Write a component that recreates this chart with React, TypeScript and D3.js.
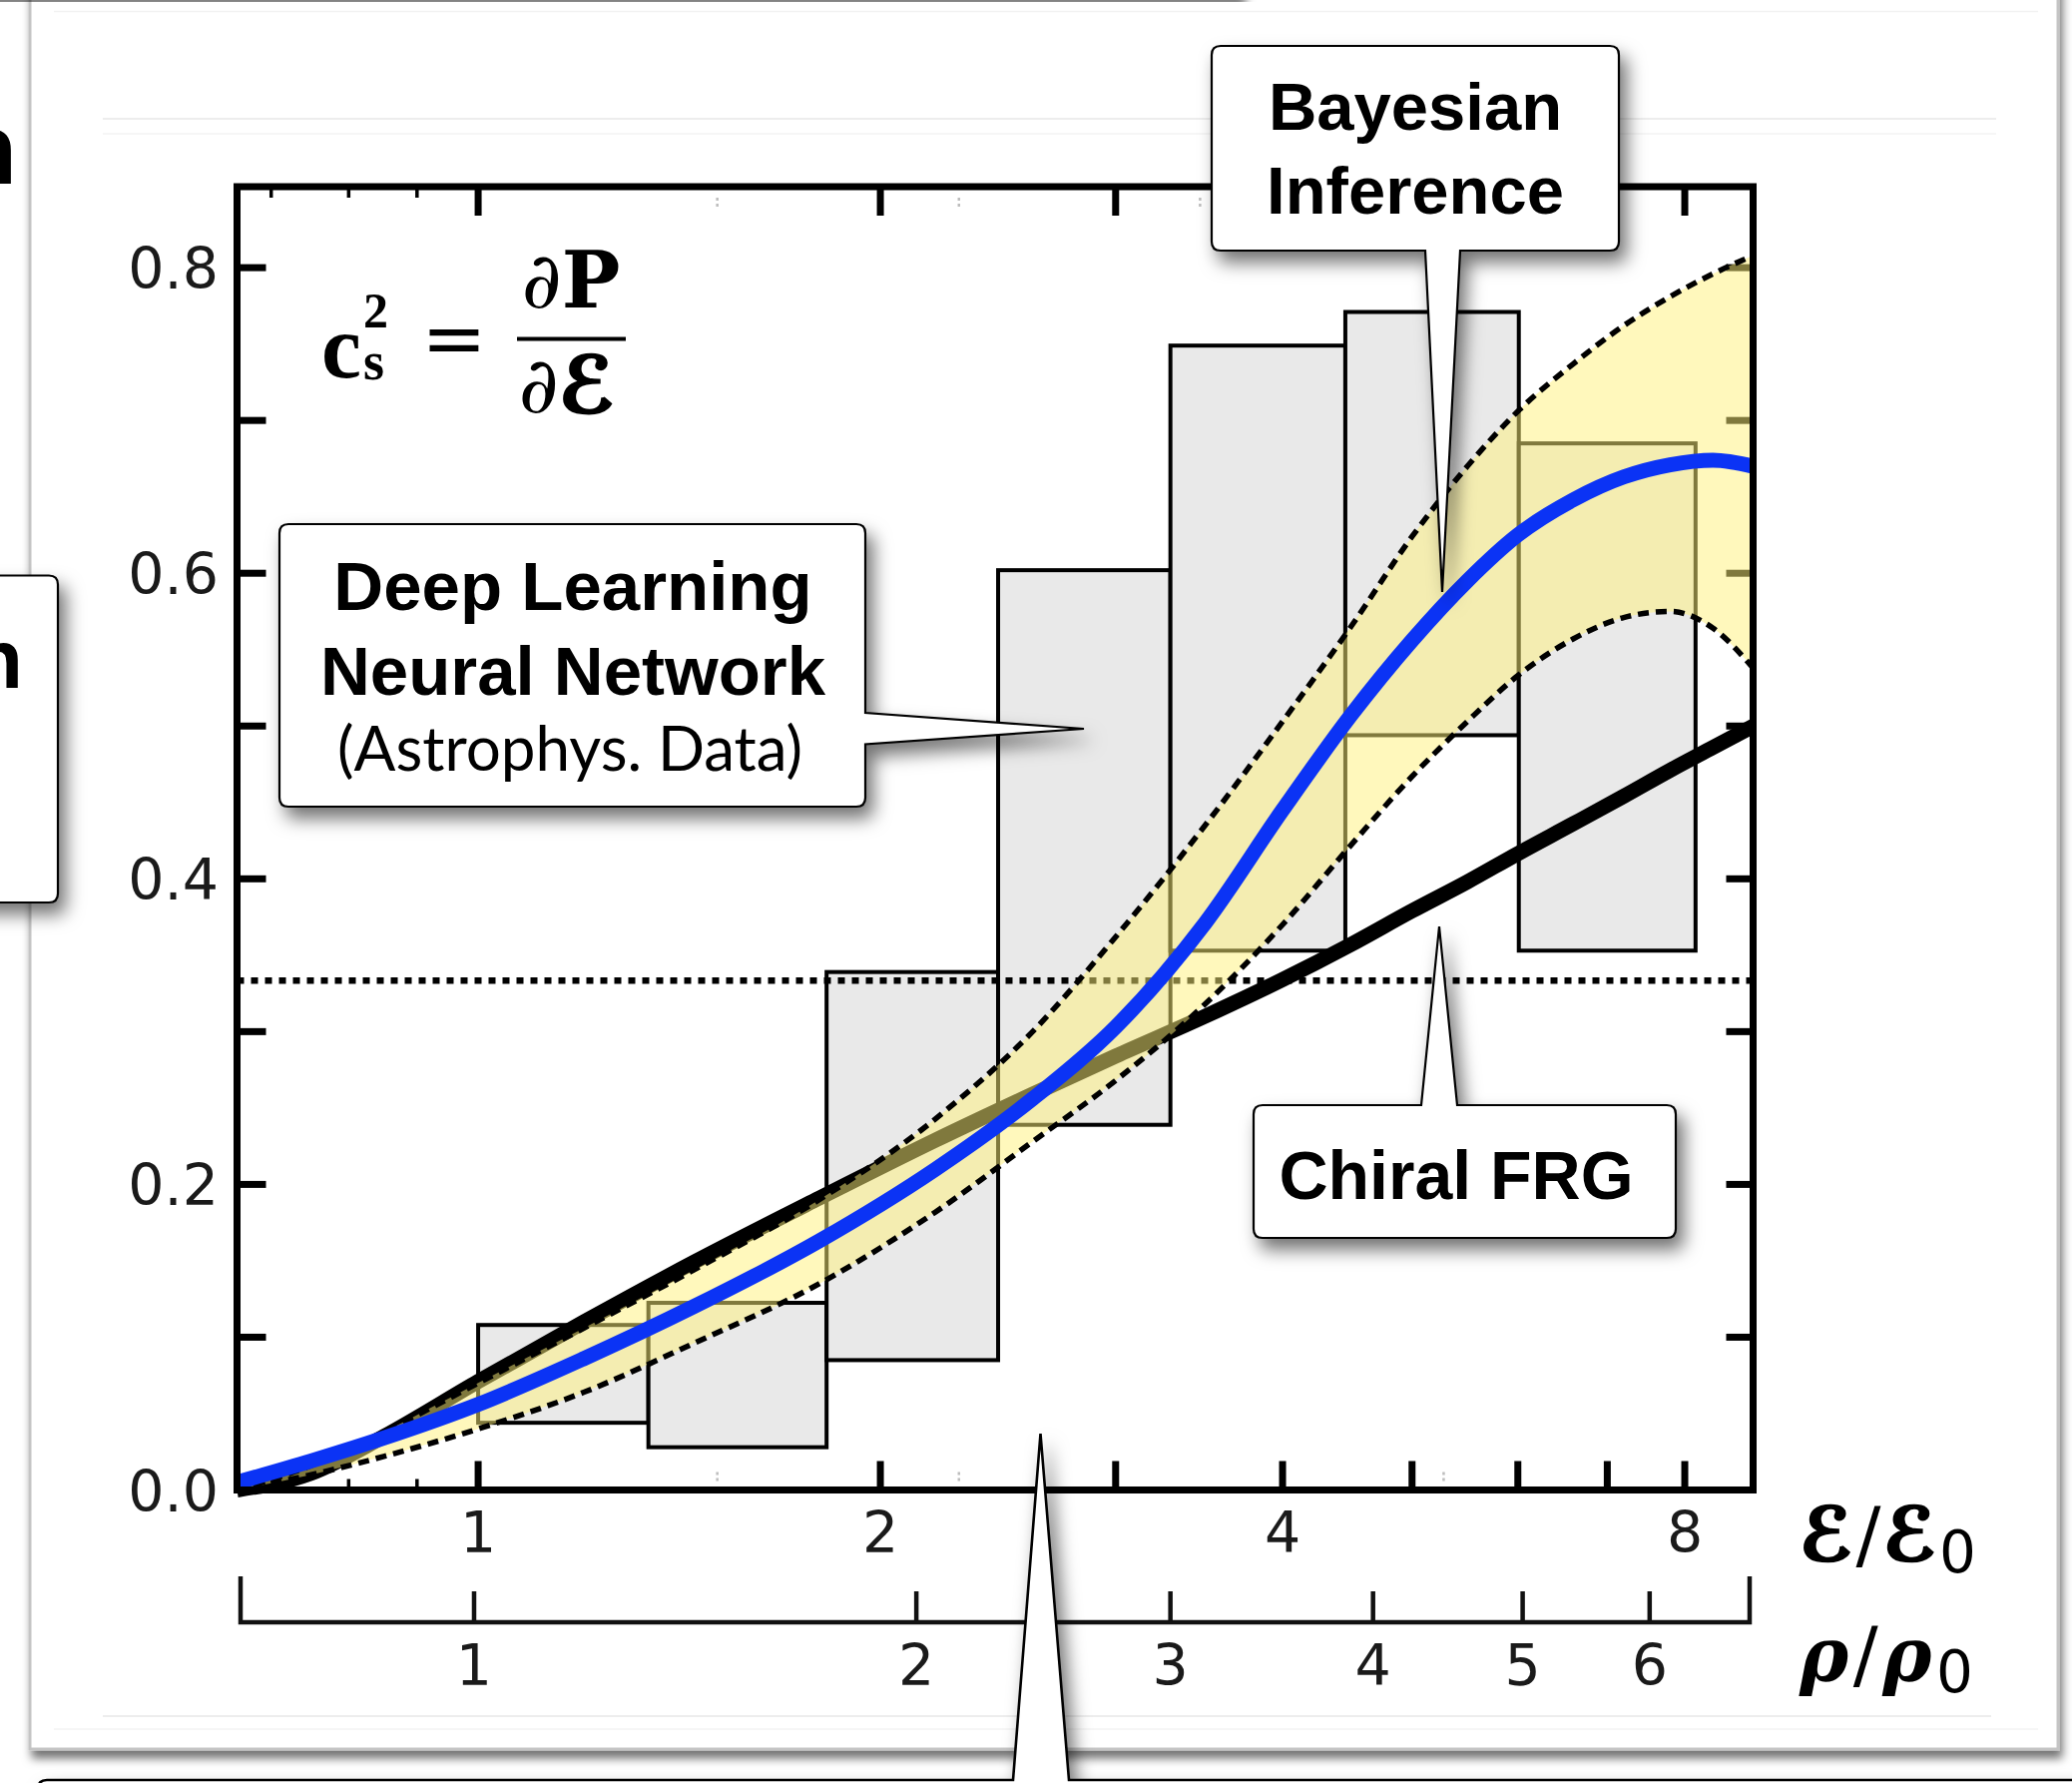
import React from 'react';
import * as d3 from 'd3';

const W = 2076;
const H = 1786;

// ε/ε0 grid on which the curves are tabulated
const epsGrid = [0.66, 0.75, 0.85, 1.0, 1.2, 1.45, 1.8, 2.2, 2.6, 3.0, 3.5, 4.0, 4.5, 5.0, 5.5, 6.0, 6.6, 7.2, 7.8, 8.4, 9.0];
// Chiral FRG speed of sound squared
const frgCs2 = [0, 0.011, 0.035, 0.071, 0.11, 0.149, 0.191, 0.229, 0.259, 0.284, 0.31, 0.334, 0.357, 0.379, 0.398, 0.4165, 0.436, 0.454, 0.471, 0.486, 0.5];
// Bayesian inference: mean and credible band
const bayesMean = [0.005, 0.019, 0.034, 0.056, 0.086, 0.12, 0.163, 0.21, 0.256, 0.303, 0.371, 0.445, 0.507, 0.556, 0.595, 0.625, 0.648, 0.663, 0.671, 0.674, 0.67];
const bayesUpper = [0, 0.016, 0.038, 0.07, 0.106, 0.144, 0.19, 0.243, 0.3, 0.362, 0.435, 0.503, 0.565, 0.624, 0.67, 0.706, 0.737, 0.762, 0.781, 0.796, 0.808];
const bayesLower = [0, 0.01, 0.022, 0.04, 0.064, 0.096, 0.135, 0.182, 0.228, 0.268, 0.318, 0.37, 0.422, 0.467, 0.503, 0.533, 0.557, 0.571, 0.575, 0.564, 0.538];

// Deep learning neural network ranges per ε/ε0 bin
const binEdges = [1.0, 1.341, 1.823, 2.45, 3.297, 4.457, 6.01, 8.15];
const dnnLow = [0.044, 0.028, 0.085, 0.239, 0.353, 0.494, 0.353];
const dnnHigh = [0.108, 0.1225, 0.339, 0.602, 0.749, 0.771, 0.685];

// axes
const yTicks = [0, 0.1, 0.2, 0.3, 0.4, 0.5, 0.6, 0.7, 0.8];
const yLabels = [0, 0.2, 0.4, 0.6, 0.8];
const epsMajor = [1, 2, 3, 4, 5, 6, 7, 8];
const epsMinor = [0.7, 0.8, 0.9];
const epsLabels = [1, 2, 4, 8];
const rhoLabels = [1, 2, 3, 4, 5, 6];
const rhoTickEps = [0.993, 2.128, 3.297, 4.675, 6.05, 7.53];
const faintTopEps = [1.51, 2.29, 3.47];
const faintBottomEps = [1.51, 2.29, 5.28];
const conformalLimit = 1 / 3;

const x = d3.scaleLog().domain([0.66, 9.0]).range([237.5, 1756.5]);
const y = d3.scaleLinear().domain([0, 0.853]).range([1492.5, 187]);

const idx = d3.range(epsGrid.length);
const line = d3
  .line<number>()
  .x((i) => x(epsGrid[i]))
  .curve(d3.curveMonotoneX);
const frgPath = line.y((i) => y(frgCs2[i]))(idx) as string;
const meanPath = line.y((i) => y(bayesMean[i]))(idx) as string;
const bandPath = d3
  .area<number>()
  .x((i) => x(epsGrid[i]))
  .y0((i) => y(bayesLower[i]))
  .y1((i) => y(bayesUpper[i]))
  .curve(d3.curveMonotoneX)(idx) as string;

type Side = 'top' | 'right' | 'bottom';
// rounded box with a wedge-shaped pointer on one side
function callout(x0: number, y0: number, x1: number, y1: number, r: number, side: Side, a: number, b: number, tx: number, ty: number) {
  let p = `M${x0 + r},${y0}`;
  if (side === 'top') p += `H${a}L${tx},${ty}L${b},${y0}`;
  p += `H${x1 - r}Q${x1},${y0} ${x1},${y0 + r}`;
  if (side === 'right') p += `V${a}L${tx},${ty}L${x1},${b}`;
  p += `V${y1 - r}Q${x1},${y1} ${x1 - r},${y1}`;
  if (side === 'bottom') p += `H${b}L${tx},${ty}L${a},${y1}`;
  p += `H${x0 + r}Q${x0},${y1} ${x0},${y1 - r}V${y0 + r}Q${x0},${y0} ${x0 + r},${y0}Z`;
  return p;
}

const SANS = "'Liberation Sans', Arial, Helvetica, sans-serif";
const TICKFONT = "'DejaVu Sans', sans-serif";
const MATH = "'DejaVu Serif', 'DejaVu Sans', serif";
const TIMES = "'Liberation Serif', 'DejaVu Serif', serif";
const SCRIPT = "'DejaVu Sans', 'DejaVu Serif', sans-serif";

export default function App() {
  const xl = x.range()[0];
  const xr = x.range()[1];
  const yb = y.range()[0];
  const yt = y.range()[1];
  return (
    <svg width={W} height={H} viewBox={`0 0 ${W} ${H}`} style={{ position: 'absolute', left: 0, top: 0, display: 'block' }}>
      <defs>
        <filter id="callShadow" x="-30%" y="-30%" width="160%" height="160%">
          <feDropShadow dx={7} dy={11} stdDeviation={9} floodColor="#000" floodOpacity={0.55} />
        </filter>
        <filter id="cardShadow" x="-5%" y="-5%" width="110%" height="110%">
          <feDropShadow dx={3} dy={8} stdDeviation={5} floodColor="#000" floodOpacity={0.55} />
        </filter>
      </defs>
      <rect x={0} y={0} width={W} height={H} fill="#fff" />

      {/* card */}
      <rect x={30} y={-60} width={2032} height={1812} fill="#fff" stroke="#c4c4c4" strokeWidth={3} filter="url(#cardShadow)" />
      {/* element above, casting its shadow */}
      <rect x={-40} y={-80} width={1285} height={78} fill="#fff" filter="url(#cardShadow)" />
      <line x1={54} x2={2042} y1={11.5} y2={11.5} stroke="#f2f2f2" strokeWidth={1.5} />
      <line x1={103} x2={2000} y1={119} y2={119} stroke="#ededed" strokeWidth={2} />
      <line x1={103} x2={2000} y1={134} y2={134} stroke="#f3f3f3" strokeWidth={1.5} />
      <line x1={103} x2={1995} y1={1719} y2={1719} stroke="#ededed" strokeWidth={2} />
      <line x1={54} x2={2042} y1={1732} y2={1732} stroke="#f3f3f3" strokeWidth={1.5} />

      {/* neighbouring callouts, partly visible */}
      <text x={17} y={184} fontFamily={SANS} fontWeight="bold" fontSize={100} textAnchor="end" fill="#000">n</text>
      <path d={callout(-40, 576.5, 58, 904, 9, 'top', 0, 0, 0, 576.5)} fill="#fff" stroke="#000" strokeWidth={2.2} filter="url(#callShadow)" />
      <text x={23} y={689} fontFamily={SANS} fontWeight="bold" fontSize={83} textAnchor="end" fill="#000">n</text>

      {/* DNN boxes */}
      <g>
        {dnnLow.map((lo, i) => (
          <rect
            key={i}
            x={x(binEdges[i])}
            y={y(dnnHigh[i])}
            width={x(binEdges[i + 1]) - x(binEdges[i])}
            height={y(lo) - y(dnnHigh[i])}
            fill="#e9e9e9"
            stroke="#000"
            strokeWidth={4}
          />
        ))}
      </g>

      {/* chiral FRG */}
      <path d={frgPath} fill="none" stroke="#000" strokeWidth={15} strokeLinecap="butt" />

      {/* conformal limit */}
      <line x1={xl} x2={xr + 6} y1={y(conformalLimit)} y2={y(conformalLimit)} stroke="#000" strokeWidth={6.5} strokeDasharray="7 7" />

      {/* ticks */}
      <g stroke="#000">
        {yTicks.map((t) => (
          <g key={`yt${t}`} strokeWidth={7}>
            <line x1={xl} x2={xl + 29} y1={y(t)} y2={y(t)} />
            <line x1={xr} x2={xr - 27} y1={y(t)} y2={y(t)} />
          </g>
        ))}
        {epsMajor.map((t) => (
          <g key={`xt${t}`} strokeWidth={7}>
            <line x1={x(t)} x2={x(t)} y1={yb} y2={yb - 29} />
            <line x1={x(t)} x2={x(t)} y1={yt} y2={yt + 29} />
          </g>
        ))}
        {epsMinor.map((t) => (
          <g key={`xm${t}`} strokeWidth={3.5}>
            <line x1={x(t)} x2={x(t)} y1={yb} y2={yb - 11} />
            <line x1={x(t)} x2={x(t)} y1={yt} y2={yt + 11} />
          </g>
        ))}
      </g>
      <g stroke="#bdbdbd" strokeWidth={2.5} strokeDasharray="3 3">
        {faintTopEps.map((t) => (
          <line key={`ft${t}`} x1={x(t)} x2={x(t)} y1={yt + 11} y2={yt + 23} />
        ))}
        {faintBottomEps.map((t) => (
          <line key={`fb${t}`} x1={x(t)} x2={x(t)} y1={yb - 18} y2={yb - 6} />
        ))}
      </g>

      {/* Bayesian band */}
      <path d={bandPath} fill="#fff27a" fillOpacity={0.5} stroke="none" />
      <path d={bandPath} fill="none" stroke="#000" strokeWidth={5.5} strokeDasharray="11 7" />
      <path d={meanPath} fill="none" stroke="#0b33f5" strokeWidth={15} />

      {/* frame */}
      <rect x={xl} y={yt} width={xr - xl} height={yb - yt} fill="none" stroke="#000" strokeWidth={7} />

      {/* tick labels */}
      <g fontFamily={TICKFONT} fontSize={57} fill="#1a1a1a">
        {yLabels.map((t) => (
          <text key={`yl${t}`} x={219} y={y(t) + 21} textAnchor="end">{t.toFixed(1)}</text>
        ))}
        {epsLabels.map((t) => (
          <text key={`xl${t}`} x={x(t)} y={1555} textAnchor="middle">{t}</text>
        ))}
        {rhoLabels.map((t, i) => (
          <text key={`rl${t}`} x={x(rhoTickEps[i])} y={1688} textAnchor="middle">{t}</text>
        ))}
      </g>

      {/* ρ/ρ0 axis */}
      <g stroke="#111" strokeWidth={4.5} fill="none">
        <path d={`M${xl + 3.5},1579V1625H${xr - 3.5}V1579`} />
        {rhoTickEps.map((e, i) => (
          <line key={`rt${i}`} x1={x(e)} x2={x(e)} y1={1625} y2={1594} />
        ))}
      </g>

      {/* axis titles */}
      <text x={1803} y={1563} fontFamily={SCRIPT} fontSize={74} fill="#000" textLength={177} lengthAdjust="spacing">
        <tspan fontWeight="bold" fontStyle="italic" stroke="#000" strokeWidth={2.6}>ℰ</tspan>
        <tspan fontFamily={TICKFONT} fontWeight="normal">/</tspan>
        <tspan fontWeight="bold" fontStyle="italic" stroke="#000" strokeWidth={2.6}>ℰ</tspan>
        <tspan fontFamily={TICKFONT} fontSize={58} dy={12}>0</tspan>
      </text>
      <text x={1803} y={1683} fontFamily={MATH} fontSize={74} fill="#000" textLength={174} lengthAdjust="spacing">
        <tspan fontWeight="bold" fontStyle="italic">ρ</tspan>
        <tspan fontFamily={TICKFONT} fontWeight="normal">/</tspan>
        <tspan fontWeight="bold" fontStyle="italic">ρ</tspan>
        <tspan fontFamily={TICKFONT} fontSize={58} dy={12}>0</tspan>
      </text>

      {/* c_s^2 = ∂P/∂ℰ */}
      <g fill="#000">
        <text x={322} y={378} fontFamily={TIMES} fontSize={90} fontWeight="bold">
          c
          <tspan x={364} y={328} fontSize={50}>2</tspan>
          <tspan x={364} y={380} fontSize={54}>s</tspan>
        </text>
        <text x={455} y={366} fontFamily={MATH} fontSize={78} textAnchor="middle">=</text>
        <line x1={518} x2={627} y1={339.5} y2={339.5} stroke="#000" strokeWidth={4} />
        <text x={572} y={308} fontFamily={MATH} fontSize={78} textAnchor="middle">
          <tspan>∂</tspan>
          <tspan fontWeight="bold">P</tspan>
        </text>
        <text x={568} y={413} fontFamily={MATH} fontSize={78} textAnchor="middle">
          <tspan>∂</tspan>
          <tspan fontFamily={SCRIPT} fontWeight="bold" fontStyle="italic" stroke="#000" strokeWidth={2.6}>ℰ</tspan>
        </text>
      </g>

      {/* callouts */}
      <path d={callout(1214, 46, 1622, 251, 9, 'bottom', 1428, 1463, 1445, 593)} fill="#fff" stroke="#000" strokeWidth={2.2} filter="url(#callShadow)" />
      <text x={1418} y={130} fontFamily={SANS} fontWeight="bold" fontSize={67} textAnchor="middle">Bayesian</text>
      <text x={1418} y={214} fontFamily={SANS} fontWeight="bold" fontSize={67} textAnchor="middle">Inference</text>

      <path d={callout(280, 525, 867, 808, 9, 'right', 714, 745.5, 1086, 730)} fill="#fff" stroke="#000" strokeWidth={2.2} filter="url(#callShadow)" />
      <text x={574} y={611} fontFamily={SANS} fontWeight="bold" fontSize={69} textAnchor="middle">Deep Learning</text>
      <text x={574} y={696} fontFamily={SANS} fontWeight="bold" fontSize={69} textAnchor="middle">Neural Network</text>
      <text x={571} y={772} fontFamily="Lato, 'Open Sans', sans-serif" fontSize={62} textAnchor="middle" textLength={466} lengthAdjust="spacingAndGlyphs">(Astrophys. Data)</text>

      <path d={callout(1256, 1107, 1679, 1240, 9, 'top', 1424, 1460, 1442, 928)} fill="#fff" stroke="#000" strokeWidth={2.2} filter="url(#callShadow)" />
      <text x={1459} y={1201} fontFamily={SANS} fontWeight="bold" fontSize={68} textAnchor="middle">Chiral FRG</text>

      <path d={callout(38, 1783, 2300, 2000, 9, 'top', 1015, 1071, 1042.5, 1436)} fill="#fff" stroke="#000" strokeWidth={2.6} filter="url(#callShadow)" />
    </svg>
  );
}
